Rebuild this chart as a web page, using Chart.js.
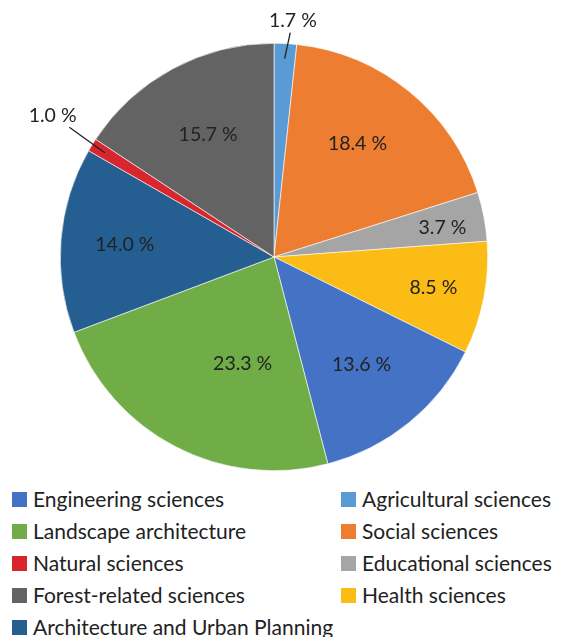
<!DOCTYPE html>
<html>
<head>
<meta charset="utf-8">
<script src="https://cdn.jsdelivr.net/npm/chart.js@4/dist/chart.umd.min.js"></script>
<style>
  body { margin: 0; background: #fff; font-family: Lato, "Open Sans", sans-serif; }
  #wrap { position: relative; width: 562px; height: 637px; overflow: hidden; }
  #pie { position: absolute; left: 0; top: 0; }
  #legend { position: absolute; left: 12px; top: 486px; width: 550px; }
  .item { position: absolute; display: flex; align-items: center; font-size: 21px; line-height: 26px; color: #222; white-space: nowrap; }
  .box { width: 15px; height: 15px; margin-right: 6px; }
</style>
</head>
<body>
<div id="wrap">
  <canvas id="pie" width="562" height="480"></canvas>
  <div id="legend"></div>
</div>
<script>
// slice order, clockwise from 12 o'clock
const categories = ['Agricultural sciences', 'Social sciences', 'Educational sciences', 'Health sciences',
  'Engineering sciences', 'Landscape architecture', 'Architecture and Urban Planning',
  'Natural sciences', 'Forest-related sciences'];
const shares = [1.7, 18.4, 3.7, 8.5, 13.6, 23.3, 14.0, 1.0, 15.7];
const colors = ['#5B9BD5', '#ED7D31', '#A5A5A5', '#FBBC15', '#4472C4', '#70AD47', '#255E91', '#D7262D', '#636363'];
// legend goes in two columns, in this order
const legendOrder = ['Engineering sciences', 'Agricultural sciences', 'Landscape architecture', 'Social sciences',
  'Natural sciences', 'Educational sciences', 'Forest-related sciences', 'Health sciences',
  'Architecture and Urban Planning'];

// where each value label sits: fraction of the radius, and a turn in degrees off the slice middle
const labelRadius = [1.11, 0.66, 0.80, 0.76, 0.65, 0.52, 0.70, 1.23, 0.65];
const labelTurn = [1.5, -3, 1, 0, 0, -11, 0, 1, 0];

const pieLabels = {
  id: 'pieLabels',
  afterDatasetsDraw(chart) {
    const ctx = chart.ctx;
    const meta = chart.getDatasetMeta(0);
    ctx.save();
    ctx.font = '19.5px Lato, "Open Sans", sans-serif';
    ctx.fillStyle = '#222';
    ctx.textAlign = 'center';
    ctx.textBaseline = 'middle';
    meta.data.forEach((arc, i) => {
      const mid = (arc.startAngle + arc.endAngle) / 2;
      const ang = mid + labelTurn[i] * Math.PI / 180;
      const r = arc.outerRadius;
      const f = labelRadius[i];
      const tx = arc.x + Math.cos(ang) * r * f;
      const ty = arc.y + Math.sin(ang) * r * f;
      const text = shares[i].toFixed(1) + ' %';
      ctx.fillText(text, tx, ty);
      if (f > 1) {
        // leader line from inside the slice to the edge of the text box
        const ax = arc.x + Math.cos(mid) * r * 0.93;
        const ay = arc.y + Math.sin(mid) * r * 0.93;
        const hw = ctx.measureText(text).width / 2 + 2;
        const hh = 12;
        const dx = ax - tx, dy = ay - ty;
        const s = Math.min(hw / Math.abs(dx || 1e-6), hh / Math.abs(dy || 1e-6));
        ctx.beginPath();
        ctx.strokeStyle = '#222';
        ctx.lineWidth = 1.3;
        ctx.moveTo(ax, ay);
        ctx.lineTo(tx + dx * s, ty + dy * s);
        ctx.stroke();
      }
    });
    ctx.restore();
  }
};

const chart = new Chart(document.getElementById('pie'), {
  type: 'pie',
  data: {
    labels: categories,
    datasets: [{
      data: shares,
      backgroundColor: colors,
      borderColor: '#ffffff',
      borderWidth: 0.6
    }]
  },
  options: {
    responsive: false,
    animation: false,
    layout: { padding: { top: 43, bottom: 9, left: 60, right: 74 } },
    plugins: {
      legend: { display: false },
      tooltip: { enabled: false }
    }
  },
  plugins: [pieLabels]
});

const legendBox = document.getElementById('legend');
legendOrder.forEach((name, k) => {
  const i = chart.data.labels.indexOf(name);
  const item = document.createElement('div');
  item.className = 'item';
  item.style.left = (k % 2 ? 329 : 0) + 'px';
  item.style.top = (Math.floor(k / 2) * 32) + 'px';
  item.innerHTML = `<span class="box" style="background:${chart.data.datasets[0].backgroundColor[i]}"></span>${name}`;
  legendBox.appendChild(item);
});
</script>
</body>
</html>
